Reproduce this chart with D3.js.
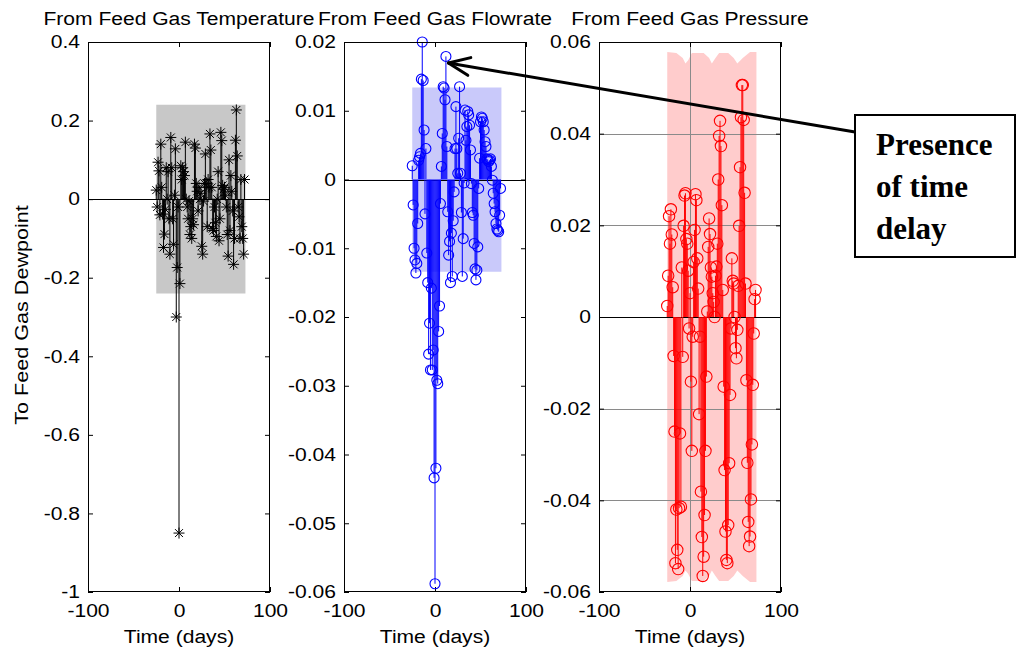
<!DOCTYPE html>
<html><head><meta charset="utf-8">
<script src="https://cdn.jsdelivr.net/npm/d3@7"></script>
<style>body{margin:0;background:#fff}svg{display:block}</style>
</head><body>
<svg id="chart" width="1018" height="652"></svg>
<script>
// ---------------- data ----------------
const lagStart = -25, lagEnd = 72;
const lags = d3.range(lagStart, lagEnd + 1);
const titles = ["From Feed Gas Temperature", "From Feed Gas Flowrate", "From Feed Gas Pressure"];
const yLabel = "To Feed Gas Dewpoint";
const xLabel = "Time (days)";
const xDomain = [-100, 100];
const xTicks = [-100, 0, 100];

const tempResp = [
 0.023,-0.02,0.094,0.072,-0.04,0.14,0.03,-0.038,-0.123,-0.089,
 -0.026,0.08,0.0,0.07,-0.05,-0.14,0.157,0.08,-0.05,-0.115,
 0.01,0.128,-0.3,-0.174,-0.02,-0.85,-0.215,0.085,0.05,0.08,
 0.07,0.06,0.145,0.0,-0.02,-0.05,-0.005,-0.09,-0.07,-0.1,
 -0.05,-0.065,0.14,0.13,0.04,0.02,-0.03,0.03,0.0,0.015,
 -0.12,-0.14,-0.005,0.04,0.115,0.04,-0.07,0.05,0.03,0.166,
 0.125,0.03,-0.075,-0.08,-0.02,-0.06,-0.095,0.0,0.07,-0.106,
 -0.05,0.17,0.149,0.035,0.025,0.03,0.01,-0.02,-0.09,-0.145,
 0.1,-0.08,0.06,0.02,-0.03,-0.166,-0.1,0.15,0.227,0.11,
 -0.02,-0.045,-0.1,0.05,-0.07,-0.1,-0.14,0.05];
const flowResp = [
 0.002,-0.0037,-0.010,-0.0117,-0.0136,-0.0122,-0.0064,0.0028,0.0033,0.0038,
 0.0146,0.020,0.0144,0.0072,-0.005,0.0045,-0.0107,-0.015,-0.0254,-0.0209,
 -0.0277,-0.0158,-0.0277,-0.0248,-0.0434,-0.0588,-0.042,-0.0292,-0.0297,-0.0221,
 -0.0184,-0.0035,0.0019,0.0067,0.0135,0.0133,0.0116,0.0179,0.0048,-0.0047,
 -0.011,-0.009,-0.015,-0.0078,-0.0141,-0.006,-0.0018,0.0045,0.0106,0.0045,
 0.0009,0.006,0.0135,0.0009,-0.0048,-0.0141,-0.0086,-0.0005,0.0101,0.0057,
 0.0077,0.0099,0.0094,0.0079,0.0043,-0.0006,-0.0048,-0.0052,-0.0093,-0.013,
 -0.0146,-0.0132,-0.0098,-0.0013,0.0031,0.0084,0.0091,0.0089,0.0084,0.0072,
 0.0055,0.0048,0.003,0.0029,0.0026,0.0028,0.003,0.0019,-0.0001,-0.002,
 -0.0035,-0.0047,-0.0064,-0.0072,-0.0074,-0.0076,-0.0052,-0.0013];
const pressResp = [
 0.0024,0.009,0.022,0.016,0.0235,0.018,0.0065,-0.0085,-0.025,-0.0537,
 -0.042,-0.0508,-0.055,-0.0417,-0.0254,-0.0414,0.0108,-0.0087,0.0199,0.0265,
 0.027,0.017,0.016,0.0101,-0.0025,0.0052,-0.0141,-0.0292,-0.0043,0.012,
 0.019,0.0268,0.0255,0.0128,0.0062,-0.0212,-0.0043,-0.0381,-0.048,-0.0565,
 -0.0523,-0.0432,-0.0292,-0.013,0.0012,0.0153,0.0215,0.0181,0.0108,0.0088,
 0.0052,0.0033,0.0,0.009,0.011,0.016,0.030,0.0395,0.0428,0.0373,
 0.0244,0.0059,-0.0152,-0.0334,-0.0468,-0.053,-0.0537,-0.0454,-0.0319,-0.017,
 -0.0025,0.0128,0.0079,0.0073,0.0,-0.0068,-0.009,-0.0028,0.0068,0.0199,
 0.0327,0.0436,0.0506,0.0506,0.043,0.0271,0.0073,-0.0138,-0.0318,-0.0447,
 -0.05,-0.0479,-0.0398,-0.0278,-0.0148,-0.0036,0.0039,0.0059];

const bandLags = [-25, 73];
const tempConf = [0.24, 0.24];
const flowConf = [0.0134, 0.0134];
const pressConfLags = [-25,-15,-8,-5,-2,2,15,21,24,28,32,42,48,52,58,66,73];
const pressConf = [0.0578,0.0576,0.0565,0.0553,0.056,0.0576,0.0576,0.0565,0.0553,0.0565,0.0576,0.0576,0.0565,0.0553,0.0565,0.0578,0.0578];

const tempDomain = [-1, 0.4];
const tempTicks = [-1,-0.8,-0.6,-0.4,-0.2,0,0.2,0.4];
const flowDomain = [-0.06, 0.02];
const flowTicks = [-0.06,-0.05,-0.04,-0.03,-0.02,-0.01,0,0.01,0.02];
const pressDomain = [-0.06, 0.06];
const pressTicks = [-0.06,-0.04,-0.02,0,0.02,0.04,0.06];

const noteLines = ["Presence", "of time", "delay"];
const noteTargetLag = 12;

// ---------------- render ----------------
const svg = d3.select("#chart");
const FONT = '"Liberation Sans", Arial, Helvetica, sans-serif';
const STRETCH = 1.17;
function stretch(sel, k) {
  sel.each(function () {
    const w = this.getComputedTextLength();
    if (w > 0) d3.select(this).attr("textLength", w * k).attr("lengthAdjust", "spacingAndGlyphs");
  });
}
const fmt = d => String(d);
const plotTop = 42, plotBottom = 592, pw = 182;
const lefts = [88, 344, 599];

const starSymbol = {
  draw(ctx, size) {
    const r = Math.sqrt(size) / 2, d = r * 0.72;
    ctx.moveTo(-r, 0); ctx.lineTo(r, 0);
    ctx.moveTo(0, -r); ctx.lineTo(0, r);
    ctx.moveTo(-d, -d); ctx.lineTo(d, d);
    ctx.moveTo(-d, d); ctx.lineTo(d, -d);
  }
};

const panels = [
  { title: titles[0], values: tempResp, domain: tempDomain, ticks: tempTicks, color: "#000000",
    bandColor: "#c8c8c8", bandL: bandLags, bandU: tempConf, marker: "star", grid: false },
  { title: titles[1], values: flowResp, domain: flowDomain, ticks: flowTicks, color: "#0000ff",
    bandColor: "#c9c9fa", bandL: bandLags, bandU: flowConf, marker: "circle", r: 5, grid: false },
  { title: titles[2], values: pressResp, domain: pressDomain, ticks: pressTicks, color: "#ff0000",
    bandColor: "#ffcccc", bandL: pressConfLags, bandU: pressConf, marker: "circle", r: 5.7, grid: true }
];

const scalesOut = [];
panels.forEach((p, i) => {
  const L = lefts[i], R = L + pw;
  const x = d3.scaleLinear().domain(xDomain).range([L, R]);
  const y = d3.scaleLinear().domain(p.domain).range([plotBottom, plotTop]);
  scalesOut.push({ x, y });
  const g = svg.append("g");

  // confidence band
  const band = p.bandL.map((l, k) => ({ lag: l, u: p.bandU[k] }));
  g.append("path").datum(band)
    .attr("d", d3.area().x(d => x(d.lag)).y0(d => y(-d.u)).y1(d => y(d.u)))
    .attr("fill", p.bandColor).attr("stroke", "none");

  // grid
  if (p.grid) {
    g.append("g").selectAll("line").data(p.ticks.filter(t => t !== 0 && t !== p.domain[0] && t !== p.domain[1]))
      .join("line").attr("x1", L).attr("x2", R)
      .attr("y1", d => Math.round(y(d)) + 0.5).attr("y2", d => Math.round(y(d)) + 0.5)
      .attr("stroke", "#8a8a8a").attr("stroke-width", 1);
    g.append("g").selectAll("line").data(xTicks.filter(t => t === 0))
      .join("line").attr("y1", plotTop).attr("y2", plotBottom)
      .attr("x1", d => Math.round(x(d)) + 0.5).attr("x2", d => Math.round(x(d)) + 0.5)
      .attr("stroke", "#8a8a8a").attr("stroke-width", 1);
  }

  // zero line
  g.append("line").attr("x1", L).attr("x2", R)
    .attr("y1", Math.round(y(0)) + 0.5).attr("y2", Math.round(y(0)) + 0.5)
    .attr("stroke", "#000").attr("stroke-width", 1);

  // axes
  const ax = g.append("g").attr("font-family", FONT);
  ax.append("g").attr("transform", `translate(${L},0)`)
    .call(d3.axisLeft(y).tickValues(p.ticks).tickFormat(fmt).tickSize(-5).tickSizeOuter(0).tickPadding(8));
  ax.append("g").attr("transform", `translate(${R},0)`)
    .call(d3.axisRight(y).tickValues(p.ticks).tickFormat("").tickSize(-5).tickSizeOuter(0));
  ax.append("g").attr("transform", `translate(0,${plotBottom})`)
    .call(d3.axisBottom(x).tickValues(xTicks).tickFormat(fmt).tickSize(-5).tickSizeOuter(0).tickPadding(12));
  ax.append("g").attr("transform", `translate(0,${plotTop})`)
    .call(d3.axisTop(x).tickValues(xTicks).tickFormat("").tickSize(-5).tickSizeOuter(0));
  ax.selectAll(".domain").remove();
  ax.selectAll(".tick line").attr("stroke", "#000");
  ax.selectAll(".tick text").attr("font-size", 18).attr("fill", "#000").attr("font-family", FONT);
  stretch(ax.selectAll(".tick text"), STRETCH);

  // stems
  const data = lags.map((l, k) => ({ lag: l, v: p.values[k] }));
  g.append("g").selectAll("line").data(data).join("line")
    .attr("x1", d => x(d.lag)).attr("x2", d => x(d.lag))
    .attr("y1", y(0)).attr("y2", d => y(d.v))
    .attr("stroke", p.color).attr("stroke-width", 1);

  // markers
  const mk = g.append("g");
  if (p.marker === "star") {
    mk.selectAll("path").data(data).join("path")
      .attr("transform", d => `translate(${x(d.lag)},${y(d.v)})`)
      .attr("d", d3.symbol().type(starSymbol).size(121))
      .attr("fill", "none").attr("stroke", p.color).attr("stroke-width", 1);
  } else {
    mk.selectAll("circle").data(data).join("circle")
      .attr("cx", d => x(d.lag)).attr("cy", d => y(d.v)).attr("r", p.r)
      .attr("fill", "none").attr("stroke", p.color).attr("stroke-width", 1.1);
  }

  // box
  g.append("rect").attr("x", L + 0.5).attr("y", plotTop + 0.5).attr("width", pw - 1).attr("height", plotBottom - plotTop - 1)
    .attr("fill", "none").attr("stroke", "#000").attr("stroke-width", 1);

  // title
  const t = g.append("text").attr("x", (L + R) / 2).attr("y", 25).attr("text-anchor", "middle")
    .attr("font-family", FONT).attr("font-size", 18).text(p.title);
  stretch(t, STRETCH);
  // x label
  const xl = g.append("text").attr("x", (L + R) / 2).attr("y", 643).attr("text-anchor", "middle")
    .attr("font-family", FONT).attr("font-size", 18).text(xLabel);
  stretch(xl, STRETCH);
});

// y label
const yl = svg.append("text").attr("transform", `translate(28,${(plotTop + plotBottom) / 2 - 2}) rotate(-90)`)
  .attr("text-anchor", "middle").attr("font-family", FONT).attr("font-size", 18).text(yLabel);
stretch(yl, 1.2);

// annotation
const s2 = scalesOut[1];
const tipX = s2.x(noteTargetLag) + 2.5, tipY = s2.y(flowResp[lags.indexOf(noteTargetLag)]) + 6.5;
const boxX = 855, boxY = 115, boxW = 160, boxH = 142;
const tailX = boxX, tailY = 132;
const ann = svg.append("g");
ann.append("line").attr("x1", tailX).attr("y1", tailY).attr("x2", tipX).attr("y2", tipY)
  .attr("stroke", "#000").attr("stroke-width", 3);
const ang = Math.atan2(tailY - tipY, tailX - tipX), wl = 23, wa = 23 * Math.PI / 180;
[ang - wa, ang + wa].forEach(a => {
  ann.append("line").attr("x1", tipX).attr("y1", tipY)
    .attr("x2", tipX + wl * Math.cos(a)).attr("y2", tipY + wl * Math.sin(a))
    .attr("stroke", "#000").attr("stroke-width", 3).attr("stroke-linecap", "round");
});
ann.append("rect").attr("x", boxX).attr("y", boxY).attr("width", boxW).attr("height", boxH)
  .attr("fill", "#fff").attr("stroke", "#000").attr("stroke-width", 2);
ann.selectAll("text.note").data(noteLines).join("text").attr("class", "note")
  .attr("x", boxX + 21).attr("y", (d, k) => 155 + k * 42)
  .attr("font-family", '"Liberation Serif", "Times New Roman", Times, serif')
  .attr("font-weight", "bold").attr("font-size", 31).attr("fill", "#000").text(d => d);
</script>
</body></html>
